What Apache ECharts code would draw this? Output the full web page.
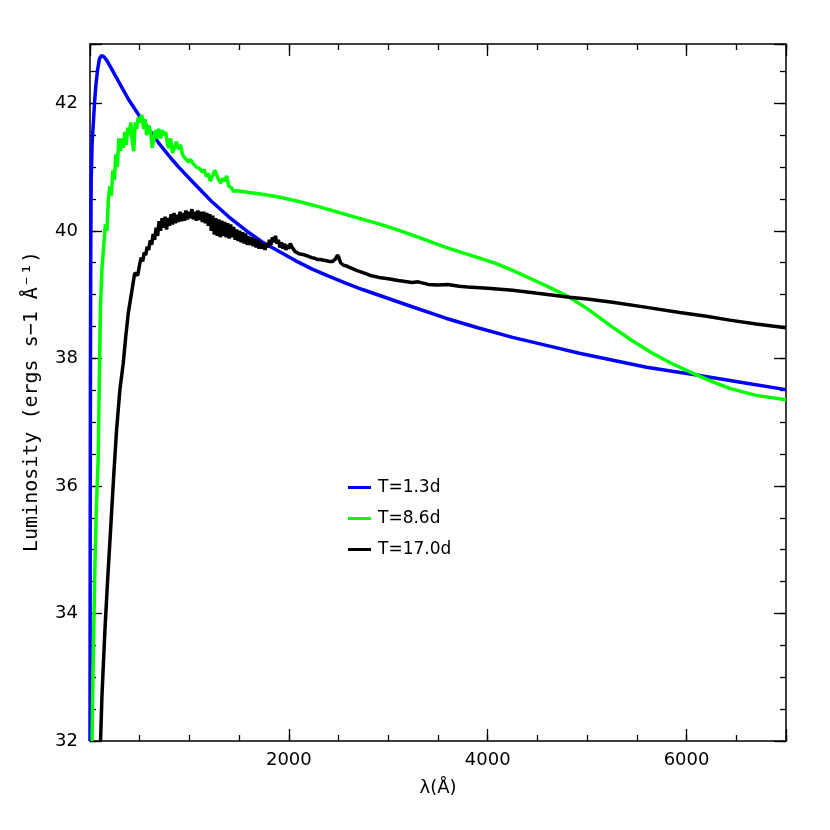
<!DOCTYPE html>
<html>
<head>
<meta charset="utf-8">
<script src="https://cdn.jsdelivr.net/npm/echarts@6/dist/echarts.min.js"></script>
<style>
  html, body { margin: 0; padding: 0; background: #fff; }
  #chart { width: 830px; height: 830px; }
</style>
</head>
<body>
<div id="chart"></div>
<script>
// wavelength (A), log luminosity pairs
var blue13 = [
  [0, 32], [2, 35], [4, 37.5], [7, 39.5], [12, 40.8], [22, 41.4], [35, 41.73], [45, 42.0],
  [60, 42.3], [76, 42.52], [95, 42.7], [116, 42.75], [140, 42.73], [170, 42.67], [217, 42.54],
  [260, 42.42], [320, 42.25], [388, 42.06], [489, 41.82], [589, 41.6], [690, 41.38],
  [808, 41.15], [892, 41.0], [1043, 40.75], [1224, 40.46], [1395, 40.22], [1565, 40.01],
  [1728, 39.83], [1898, 39.68], [2070, 39.53], [2235, 39.4], [2400, 39.29], [2571, 39.18],
  [2740, 39.08], [2907, 38.99], [3240, 38.81], [3578, 38.63], [3900, 38.48], [4250, 38.33],
  [4600, 38.2], [4922, 38.08], [5260, 37.97], [5597, 37.86], [6100, 37.74], [6604, 37.61],
  [7000, 37.51]
]

var green86 = [
  [20, 32], [35, 33.5], [50, 34.8], [65, 35.7], [82, 36.4], [95, 37.8], [105, 38.8],
  [120, 39.4], [140, 39.8], [155, 40.1], [170, 40.0], [185, 40.5], [200, 40.7], [215, 40.55],
  [230, 40.95], [245, 40.8], [260, 41.2], [275, 41.0], [290, 41.45], [305, 41.25], [320, 41.45],
  [335, 41.3], [350, 41.55], [365, 41.35], [380, 41.62], [395, 41.5], [410, 41.7], [425, 41.4],
  [440, 41.25], [455, 41.7], [470, 41.6], [485, 41.78], [500, 41.7], [520, 41.82], [540, 41.6],
  [555, 41.75], [570, 41.5], [590, 41.65], [610, 41.55], [625, 41.3], [640, 41.28], [660, 41.58],
  [675, 41.45], [690, 41.6], [710, 41.45], [725, 41.58], [740, 41.5], [760, 41.55], [780, 41.35],
  [795, 41.3], [810, 41.45], [830, 41.22], [850, 41.25], [870, 41.4], [890, 41.28], [910, 41.35],
  [930, 41.2], [950, 41.15], [970, 41.18], [990, 41.08], [1010, 41.12], [1040, 41.05],
  [1070, 41.0], [1100, 40.98], [1130, 40.92], [1150, 40.96], [1170, 40.85], [1190, 40.9],
  [1210, 40.78], [1230, 40.85], [1255, 40.95], [1275, 40.98], [1295, 40.8], [1315, 40.75],
  [1335, 40.82], [1355, 40.78], [1375, 40.86], [1395, 40.7], [1420, 40.68], [1445, 40.62],
  [1480, 40.63], [1600, 40.6], [1750, 40.57], [1900, 40.53], [2100, 40.46], [2300, 40.38],
  [2500, 40.29], [2700, 40.2], [2906, 40.11], [3100, 40.01], [3300, 39.9], [3578, 39.74],
  [3800, 39.63], [4081, 39.49], [4250, 39.38], [4418, 39.26], [4600, 39.13], [4821, 38.96],
  [5000, 38.78], [5255, 38.49], [5450, 38.28], [5657, 38.08], [5850, 37.92], [6060, 37.77],
  [6250, 37.64], [6434, 37.53], [6700, 37.42], [7000, 37.35]
]

var black170 = [
  [106, 32], [120, 32.7], [150, 33.74], [180, 34.6], [207, 35.31], [240, 36.2], [267, 36.87],
  [300, 37.5], [334, 37.92], [360, 38.35], [385, 38.71], [420, 39.05], [450, 39.34], [480, 39.3],
  [500, 39.48], [515, 39.58], [530, 39.52], [545, 39.66], [560, 39.62], [575, 39.75], [590, 39.7],
  [605, 39.85], [620, 39.78], [635, 39.95], [650, 39.86], [665, 40.05], [680, 39.92], [695, 40.15],
  [710, 40.0], [725, 40.2], [740, 40.05], [755, 40.22], [770, 40.02], [785, 40.2], [800, 40.08],
  [815, 40.26], [830, 40.1], [845, 40.28], [860, 40.12], [875, 40.25], [890, 40.14], [905, 40.3],
  [920, 40.15], [935, 40.28], [950, 40.16], [965, 40.32], [980, 40.18], [995, 40.3], [1010, 40.2],
  [1025, 40.34], [1040, 40.18], [1055, 40.3], [1070, 40.16], [1085, 40.32], [1100, 40.17],
  [1115, 40.3], [1130, 40.14], [1145, 40.3], [1160, 40.12], [1175, 40.28], [1190, 40.08],
  [1205, 40.26], [1220, 40.0], [1235, 40.24], [1250, 39.94], [1265, 40.2], [1280, 39.92],
  [1295, 40.18], [1310, 39.9], [1325, 40.16], [1340, 39.92], [1355, 40.14], [1370, 39.9],
  [1385, 40.12], [1400, 39.88], [1415, 40.1], [1430, 39.9], [1445, 40.06], [1460, 39.86],
  [1475, 40.02], [1490, 39.84], [1505, 40.0], [1520, 39.82], [1535, 39.98], [1550, 39.8],
  [1565, 39.96], [1580, 39.78], [1595, 39.92], [1610, 39.78], [1625, 39.9], [1640, 39.76],
  [1655, 39.88], [1670, 39.74], [1685, 39.86], [1700, 39.72], [1715, 39.84], [1730, 39.72],
  [1745, 39.8], [1760, 39.7], [1775, 39.8], [1790, 39.74], [1805, 39.86], [1820, 39.78],
  [1835, 39.9], [1850, 39.82], [1865, 39.92], [1880, 39.8], [1895, 39.86], [1910, 39.74],
  [1925, 39.82], [1940, 39.72], [1955, 39.8], [1970, 39.7], [1985, 39.78], [2000, 39.72],
  [2015, 39.8], [2030, 39.75], [2045, 39.78], [2060, 39.68], [2080, 39.66], [2100, 39.64],
  [2120, 39.62], [2140, 39.63], [2160, 39.6], [2180, 39.61], [2200, 39.6], [2230, 39.58],
  [2260, 39.57], [2290, 39.55], [2320, 39.55], [2350, 39.54], [2380, 39.53], [2410, 39.52],
  [2440, 39.52], [2470, 39.56], [2490, 39.62], [2503, 39.58], [2520, 39.5], [2550, 39.46],
  [2580, 39.45], [2604, 39.43], [2680, 39.38], [2738, 39.35], [2820, 39.3], [2906, 39.27],
  [3000, 39.25], [3100, 39.22], [3240, 39.19], [3300, 39.2], [3400, 39.16], [3500, 39.15],
  [3600, 39.16], [3712, 39.13], [3800, 39.12], [4000, 39.1], [4250, 39.07], [4500, 39.02],
  [4821, 38.96], [5000, 38.93], [5255, 38.88], [5600, 38.8], [5930, 38.72], [6200, 38.66],
  [6434, 38.6], [6700, 38.54], [7000, 38.48]
]

var seriesNames = ['T=1.3d', 'T=8.6d', 'T=17.0d']
var xMin = 0, xMax = 7000
var yMin = 32, yMax = 42.93

var font = 'DejaVu Sans'
var frame = { show: true, onZero: false, lineStyle: { color: '#000', width: 1.5 } }
var noLine = { show: false, onZero: false }

function xAx(pos, step, len, labels, line) {
  return {
    type: 'value', position: pos, min: xMin, max: xMax, interval: step,
    axisLine: line ? frame : noLine,
    axisTick: { show: true, inside: true, length: len, lineStyle: { color: '#000', width: 1.3 } },
    axisLabel: labels ? {
      show: true, margin: 10, color: '#000', fontFamily: font, fontSize: 18,
      formatter: function (v) { return (v > xMin && v < xMax) ? String(v) : '' }
    } : { show: false },
    splitLine: { show: false },
    name: labels ? 'λ(Å)' : '',
    nameLocation: 'middle', nameGap: 38,
    nameTextStyle: { color: '#000', fontFamily: font, fontSize: 18 }
  }
}

function yAx(pos, step, len, labels, line) {
  return {
    type: 'value', position: pos, min: yMin, max: yMax, interval: step,
    axisLine: line ? frame : noLine,
    axisTick: { show: true, inside: true, length: len, lineStyle: { color: '#000', width: 1.3 } },
    axisLabel: labels ? {
      show: true, margin: 12, color: '#000', fontFamily: font, fontSize: 18,
      formatter: function (v) { return Math.abs(v - Math.round(v / 2) * 2) < 1e-6 ? String(Math.round(v)) : '' }
    } : { show: false },
    splitLine: { show: false },
    name: labels ? 'Luminosity (ergs s−1 Å⁻¹)' : '',
    nameLocation: 'middle', nameGap: 48,
    nameTextStyle: { color: '#000', fontFamily: 'DejaVu Sans Mono', fontSize: 20, padding: [0, 18, 0, 0] }
  }
}

var chart = echarts.init(document.getElementById('chart'))
chart.setOption({
  animation: false,
  backgroundColor: '#fff',
  grid: { left: 90, top: 44, right: 44, bottom: 89, containLabel: false },
  legend: {
    data: seriesNames,
    orient: 'vertical', left: 343, top: 474,
    icon: 'rect', itemWidth: 23, itemHeight: 3, itemGap: 14,
    textStyle: { color: '#000', fontFamily: font, fontSize: 17, padding: [0, 0, 0, 2] }
  },
  xAxis: [
    xAx('bottom', 2000, 12, true, true),
    xAx('bottom', 500, 6, false, false),
    xAx('top', 2000, 12, false, true),
    xAx('top', 500, 6, false, false)
  ],
  yAxis: [
    yAx('left', 2, 12, true, true),
    yAx('left', 0.5, 6, false, false),
    yAx('right', 2, 12, false, true),
    yAx('right', 0.5, 6, false, false)
  ],
  series: [
    { name: seriesNames[0], type: 'line', data: blue13, color: '#0000ff', showSymbol: false, symbol: 'none', lineStyle: { width: 3.5 } },
    { name: seriesNames[1], type: 'line', data: green86, color: '#00ff00', showSymbol: false, symbol: 'none', lineStyle: { width: 3.5 } },
    { name: seriesNames[2], type: 'line', data: black170, color: '#000000', showSymbol: false, symbol: 'none', lineStyle: { width: 3.5 } }
  ]
})
</script>
</body>
</html>
